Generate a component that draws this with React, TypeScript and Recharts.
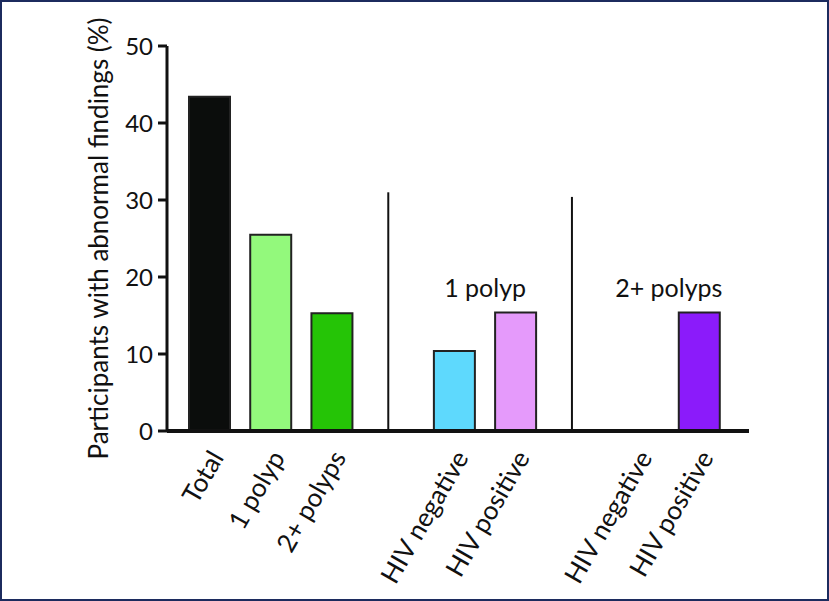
import React from 'react';
import {
  BarChart, Bar, XAxis, YAxis, Cell, ReferenceLine, ReferenceArea, Label,
} from 'recharts';

// categories (blank slots keep the gaps between the groups)
const categories = ['total', 'one', 'two', 'gap1', 'neg1', 'pos1', 'gap2', 'neg2', 'pos2'];
const tickLabels = ['Total', '1 polyp', '2+ polyps', '', 'HIV negative', 'HIV positive', '', 'HIV negative', 'HIV positive'];
const values = [43.4, 25.5, 15.3, null, 10.4, 15.4, null, 0, 15.4];
const barColors = ['#0b0d0c', '#93f97c', '#25c406', 'none', '#5ed9fd', '#e59afb', 'none', '#5ed9fd', '#8b1bfa'];
const yTicks = [0, 10, 20, 30, 40, 50];
const dividers = [{ at: 'gap1', top: 31 }, { at: 'gap2', top: 30.4 }];
const groupLabels = [
  { from: 'neg1', to: 'pos1', text: '1 polyp' },
  { from: 'neg2', to: 'pos2', text: '2+ polyps' },
];

const data = categories.map((key, i) => ({ key, value: values[i] }));
const FONT = 'Lato, "Open Sans", sans-serif';

const XTick = (props: any) => {
  const { x, y, payload } = props;
  const label = tickLabels[categories.indexOf(payload.value)];
  if (!label) return null;
  return (
    <g transform={`translate(${x + 7},${y + 22})`}>
      <text transform="rotate(-60)" textAnchor="end" dy="0.35em" fill="#111" fontSize={26} fontFamily={FONT}>
        {label}
      </text>
    </g>
  );
};

const YTitle = (props: any) => {
  const { viewBox } = props;
  const cx = viewBox.x + 98;
  const cy = viewBox.y + viewBox.height / 2;
  return (
    <text x={cx} y={cy} transform={`rotate(-90 ${cx} ${cy})`} textAnchor="middle" dominantBaseline="central"
      fill="#111" fontSize={26} fontFamily={FONT}>
      Participants with abnormal findings (%)
    </text>
  );
};

// the dividers sit a little left of the blank slot's middle
const Divider = (props: any) => {
  const { x1, y1, x2, y2 } = props;
  return <line x1={x1 - 5} y1={y1} x2={x2 - 5} y2={y2} stroke="#111" strokeWidth={2} />;
};

export default function App() {
  return (
    <div style={{ position: 'absolute', left: 0, top: 0, width: 829, height: 601, background: '#fff' }}>
      <BarChart width={829} height={601} data={data} margin={{ top: 46, right: 80, bottom: 0, left: 0 }}>
        <XAxis
          dataKey="key"
          height={170}
          interval={0}
          tick={<XTick />}
          tickLine={false}
          tickSize={0}
          tickMargin={0}
          axisLine={{ stroke: '#111', strokeWidth: 4 }}
          padding={{ left: 12, right: 19 }}
        />
        <YAxis
          width={167}
          domain={[0, 50]}
          ticks={yTicks}
          tickSize={9}
          tickMargin={5}
          axisLine={{ stroke: '#111', strokeWidth: 3 }}
          tickLine={{ stroke: '#111', strokeWidth: 3 }}
          tick={{ fill: '#111', fontSize: 24, fontFamily: FONT }}
        >
          <Label content={<YTitle />} />
        </YAxis>
        {dividers.map((d) => (
          <ReferenceLine key={d.at} segment={[{ x: d.at, y: 0 }, { x: d.at, y: d.top }]} shape={<Divider />} />
        ))}
        {groupLabels.map((g) => (
          <ReferenceArea key={g.text} x1={g.from} x2={g.to} y1={17.8} y2={19.4} fill="none" stroke="none"
            label={{ value: g.text, position: 'center', fill: '#111', fontSize: 25, fontFamily: FONT }} />
        ))}
        <Bar dataKey="value" barSize={41} stroke="#222" strokeWidth={2} isAnimationActive={false}>
          {data.map((d, i) => (
            <Cell key={d.key} fill={barColors[i]} />
          ))}
        </Bar>
      </BarChart>
      <div style={{ position: 'absolute', inset: 0, border: '2px solid #1c2b5e', pointerEvents: 'none' }} />
    </div>
  );
}
